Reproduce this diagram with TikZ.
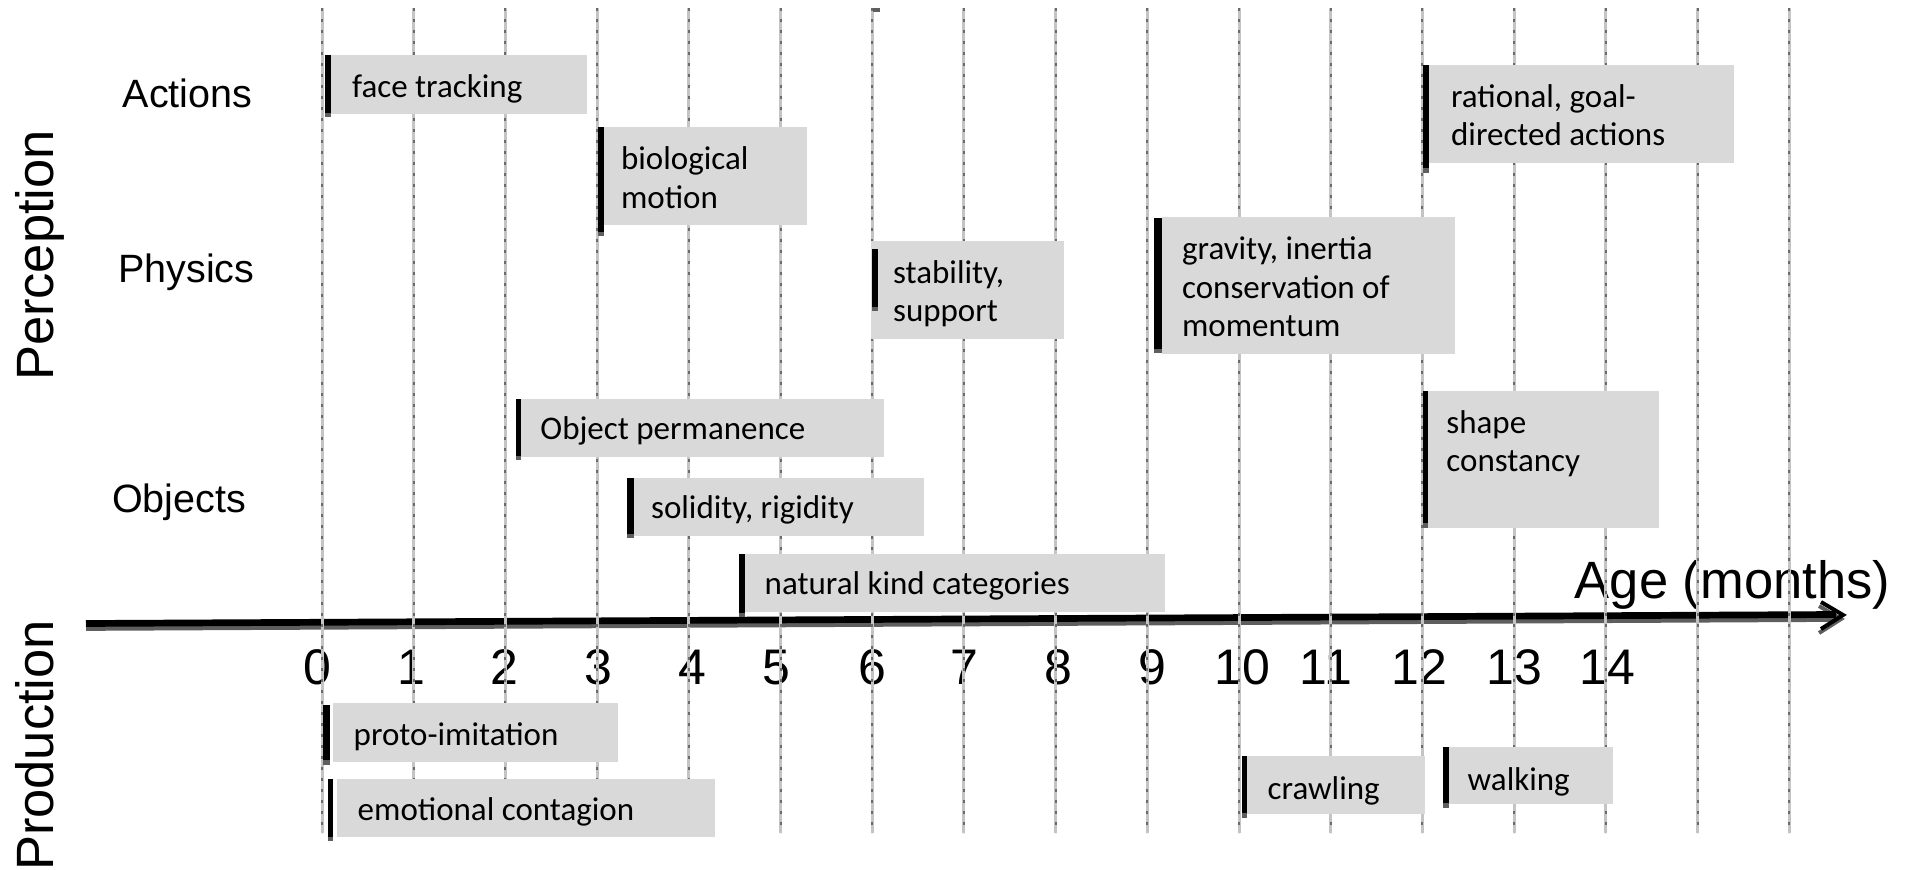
\documentclass[tikz,border=0pt]{standalone}
\usepackage{fontspec}
\usetikzlibrary{calc}
\setmainfont{Carlito}
\newfontfamily\arialfont{Liberation Sans}
\definecolor{boxgray}{HTML}{D9D9D9}
\definecolor{gridlight}{HTML}{C4C4C4}
\definecolor{griddark}{HTML}{6A6A6A}
\definecolor{shadowgray}{HTML}{5E5E5E}
\newcommand\twolines[2]{\vtop{\hbox{#1}\hbox{#2}}}
\newcommand\threelines[3]{\vtop{\hbox{#1}\hbox{#2}\hbox{#3}}}
\begin{document}
\begin{tikzpicture}[x=0.5pt,y=-0.5pt,
  boxfill/.style={fill=boxgray},
  barblack/.style={fill=black},
  barshade/.style={fill=shadowgray},
  evtext/.style={font=\fontsize{16.5pt}{19.25pt}\selectfont, anchor=base west, inner sep=0pt},
  rowlabel/.style={font=\arialfont\fontsize{19.75pt}{23pt}\selectfont, anchor=base, inner sep=0pt},
  sidelabel/.style={font=\arialfont\fontsize{26.25pt}{30pt}\selectfont, anchor=base, inner sep=0pt, rotate=90},
  ticklabel/.style={font=\arialfont\fontsize{25pt}{29pt}\selectfont, anchor=base, inner sep=0pt},
  gridbg/.style={draw=gridlight, line width=1.5pt},
  griddash/.style={draw=griddark, line width=1pt, dash pattern=on 1.4pt off 4.1pt},
  axisline/.style={draw=black, line width=3.35pt},
  axisshade/.style={draw=shadowgray, line width=3.35pt},
  axishead/.style={draw=black, line width=2pt, miter limit=10},
  axisheadshade/.style={draw=shadowgray, line width=2pt, miter limit=10}
]
\useasboundingbox (0,0) rectangle (1910,870);

% side labels
\node[sidelabel] (perc) at (53.3,255.5) {Perception};
\node[sidelabel] (prod) at (53.3,745.5) {Production};

% row labels
\node[rowlabel] (actions) at (187.5,108) {Actions};
\node[rowlabel] (physics) at (186.3,282.6) {Physics};
\node[rowlabel] (objects) at (179,513) {Objects};

% axis
\coordinate (axs) at (86,623.5);
\coordinate (axe) at (1836,614.5);
\coordinate (axtip) at (1843,615);
\draw[axisshade] ($(axs)+(0,4)$) -- ($(axe)+(0,4)$);
\draw[axisheadshade] ($(axtip)+(-24,-9)$) -- ($(axtip)+(-2,4)$) -- ($(axtip)+(-24,18)$);
\draw[axisline] (axs) -- (axe);
\draw[axishead] ($(axtip)+(-22,-13)$) -- (axtip) -- ($(axtip)+(-22,14)$);
\node[ticklabel, font=\arialfont\fontsize{26.25pt}{30pt}\selectfont] (agelbl) at (1732.5,599) {Age (months)};

% tick labels
\node[ticklabel] (t0) at (317.3,684.5) {0};
\node[ticklabel] (t1) at (411.7,684.5) {1};
\node[ticklabel] (t2) at (504.3,684.5) {2};
\node[ticklabel] (t3) at (598.5,684.5) {3};
\node[ticklabel] (t4) at (692.5,684.5) {4};
\node[ticklabel] (t5) at (776.2,684.5) {5};
\node[ticklabel] (t6) at (872,684.5) {6};
\node[ticklabel] (t7) at (964,684.5) {7};
\node[ticklabel] (t8) at (1058.7,684.5) {8};
\node[ticklabel] (t9) at (1152.5,684.5) {9};
\node[ticklabel] (t10) at (1242.2,684.5) {10};
\node[ticklabel] (t11) at (1325.9,684.5) {11};
\node[ticklabel] (t12) at (1419.6,684.5) {12};
\node[ticklabel] (t13) at (1514.5,684.5) {13};
\node[ticklabel] (t14) at (1607,684.5) {14};

% grid lines
\foreach \i in {0,...,16} {
  \draw[gridbg] ({322+91.7*\i},8) -- ({322+91.7*\i},833);
  \draw[griddash] ({322+91.7*\i},8) -- ({322+91.7*\i},833);
}
\fill[barshade] (873.3,8) rectangle (880,12);

% events: box, bar shadow, bar, text
% face tracking
\fill[boxfill] (331,55.3) rectangle (586.7,114.3);
\fill[barshade] (325,59.8) rectangle (331,117.2);
\fill[barblack] (325,55.3) rectangle (331,112.7);
\node[evtext] (ft) at (351.7,98) {face tracking};

% biological motion
\fill[boxfill] (604.3,127.3) rectangle (806.7,225);
\fill[barshade] (598.3,131.8) rectangle (604.3,236.2);
\fill[barblack] (598.3,127.3) rectangle (604.3,231.7);
\node[evtext] (bm) at (620.7,170) {\twolines{biological}{motion}};

% rational, goal-directed actions
\fill[boxfill] (1429.3,65) rectangle (1734.3,162.7);
\fill[barshade] (1423.3,69.5) rectangle (1429.3,172.8);
\fill[barblack] (1423.3,65) rectangle (1429.3,168.3);
\node[evtext] (rg) at (1450.7,107.3) {\twolines{rational, goal-}{directed actions}};

% stability, support
\fill[boxfill] (870.7,241) rectangle (1064,339.3);
\fill[barshade] (872.3,253.5) rectangle (877.7,311.2);
\fill[barblack] (872.3,249) rectangle (877.7,306.7);
\node[evtext] (ss) at (892.7,283.3) {\twolines{stability,}{support}};

% gravity, inertia
\fill[boxfill] (1161.7,216.7) rectangle (1455,354.3);
\fill[barshade] (1154,222.5) rectangle (1161.7,353.5);
\fill[barblack] (1154,218) rectangle (1161.7,349);
\node[evtext] (gi) at (1181.7,260) {\threelines{gravity, inertia}{conservation of}{momentum}};

% shape constancy
\fill[boxfill] (1428,391) rectangle (1659,528);
\fill[barshade] (1422.7,395.5) rectangle (1428,527.8);
\fill[barblack] (1422.7,391) rectangle (1428,523.3);
\node[evtext] (sc) at (1446,433.5) {\twolines{shape}{constancy}};

% Object permanence
\fill[boxfill] (521,399) rectangle (883.8,457.3);
\fill[barshade] (515.6,403.5) rectangle (521,460.5);
\fill[barblack] (515.6,399) rectangle (521,456);
\node[evtext] (op) at (540,440) {Object permanence};

% solidity, rigidity
\fill[boxfill] (633.8,477.7) rectangle (924.2,535.7);
\fill[barshade] (627,482.2) rectangle (633.8,538.5);
\fill[barblack] (627,477.7) rectangle (633.8,534);
\node[evtext] (sr) at (650.7,518.3) {solidity, rigidity};

% natural kind categories
\fill[boxfill] (745,554) rectangle (1164.5,612.3);
\fill[barshade] (739,558.5) rectangle (745,617.5);
\fill[barblack] (739,554) rectangle (745,613);
\node[evtext] (nk) at (764.3,595) {natural kind categories};

% proto-imitation
\fill[boxfill] (333.3,703.3) rectangle (617.6,762.3);
\fill[barshade] (323.3,709.5) rectangle (330,764.5);
\fill[barblack] (323.3,705) rectangle (330,760);
\node[evtext] (pi) at (353.3,745) {proto-imitation};

% emotional contagion
\fill[boxfill] (337.3,779) rectangle (715,837.3);
\fill[barshade] (327.7,783.8) rectangle (333,841.2);
\fill[barblack] (327.7,779.3) rectangle (333,836.7);
\node[evtext] (ec) at (357.3,820) {emotional contagion};

% crawling
\fill[boxfill] (1247.3,756) rectangle (1425,814.3);
\fill[barshade] (1241.7,760.5) rectangle (1247.3,817.8);
\fill[barblack] (1241.7,756) rectangle (1247.3,813.3);
\node[evtext] (cr) at (1267.3,799) {crawling};

% walking
\fill[boxfill] (1449.3,746.7) rectangle (1612.7,804.3);
\fill[barshade] (1443.3,751.2) rectangle (1449.3,807.8);
\fill[barblack] (1443.3,746.7) rectangle (1449.3,803.3);
\node[evtext] (wk) at (1467.3,790) {walking};
\end{tikzpicture}
\end{document}
